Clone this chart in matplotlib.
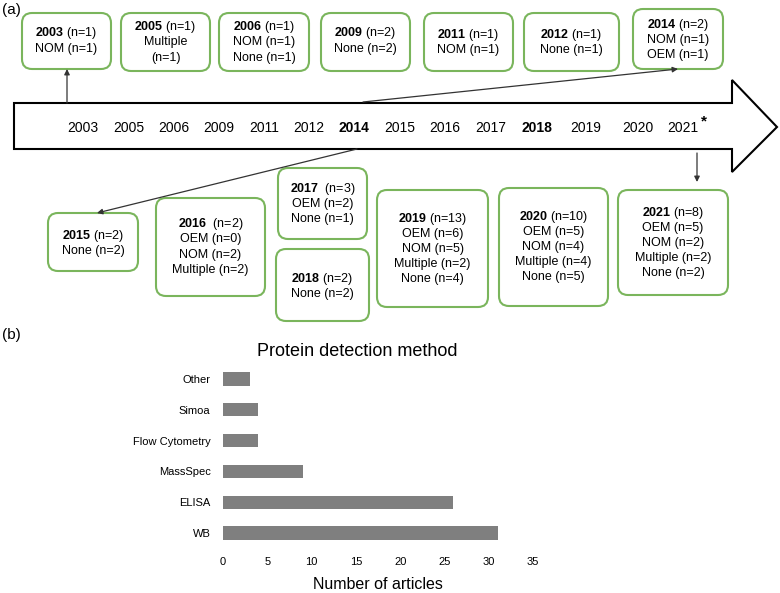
import numpy as np
import matplotlib
matplotlib.use("Agg")
import matplotlib.pyplot as plt
from matplotlib.patches import FancyBboxPatch, Polygon

plt.rcParams['font.family'] = ['Liberation Sans', 'DejaVu Sans']
plt.rcParams['mathtext.fontset'] = 'custom'
plt.rcParams['mathtext.rm'] = 'Liberation Sans'
plt.rcParams['mathtext.bf'] = 'Liberation Sans:bold'

# timeline years on the arrow
years = ['2003', '2005', '2006', '2009', '2011', '2012', '2014', '2015',
         '2016', '2017', '2018', '2019', '2020', '2021']
bold_years = ['2014', '2018']

# box contents (first entry is year, then lines)
box_year = ['2003', '2005', '2006', '2009', '2011', '2012', '2014',
            '2015', '2016', '2017', '2018', '2019', '2020', '2021']
box_head = ['(n=1)', '(n=1)', '(n=1)', '(n=2)', '(n=1)', '(n=1)', '(n=2)',
            '(n=2)', ' (n=2)', ' (n=3)', '(n=2)', '(n=13)', '(n=10)', '(n=8)']
box_lines = [
    ['NOM (n=1)'],
    ['Multiple', '(n=1)'],
    ['NOM (n=1)', 'None (n=1)'],
    ['None (n=2)'],
    ['NOM (n=1)'],
    ['None (n=1)'],
    ['NOM (n=1)', 'OEM (n=1)'],
    ['None (n=2)'],
    ['OEM (n=0)', 'NOM (n=2)', 'Multiple (n=2)'],
    ['OEM (n=2)', 'None (n=1)'],
    ['None (n=2)'],
    ['OEM (n=6)', 'NOM (n=5)', 'Multiple (n=2)', 'None (n=4)'],
    ['OEM (n=5)', 'NOM (n=4)', 'Multiple (n=4)', 'None (n=5)'],
    ['OEM (n=5)', 'NOM (n=2)', 'Multiple (n=2)', 'None (n=2)'],
]

# bar chart data
methods = ['WB', 'ELISA', 'MassSpec', 'Flow Cytometry', 'Simoa', 'Other']
articles = [31, 26, 9, 4, 4, 3]

# layout in pixels (x0, y0, x1, y1, first text line y, line spacing)
year_x = [83, 129, 174, 219, 264, 309, 354, 400, 445, 491, 537, 586, 638, 683]
box_pos = [
    (22, 13, 111, 69, 33, 16), (121, 13, 210, 71, 27, 15.5),
    (219, 13, 309, 71, 27, 15.5), (321, 13, 410, 71, 33, 16),
    (424, 13, 513, 71, 35, 15), (524, 13, 619, 71, 35, 15),
    (633, 9, 723, 69, 25, 15),
    (48, 213, 138, 271, 236, 15), (156, 198, 265, 296, 224, 15.3),
    (278, 168, 367, 239, 189, 15), (276, 249, 369, 321, 279, 14.5),
    (377, 190, 488, 307, 219, 15), (499, 188, 608, 306, 217, 15),
    (618, 190, 728, 295, 213, 15),
]
green = '#7ab55c'

fig = plt.figure(figsize=(7.8, 5.93), dpi=100)
ax0 = fig.add_axes([0, 0, 1, 1])
ax0.set_xlim(0, 780)
ax0.set_ylim(593, 0)
ax0.axis('off')

ax0.text(2, 10, '(a)', fontsize=11, va='center', ha='left')
ax0.text(2, 335, '(b)', fontsize=11, va='center', ha='left')

# big timeline arrow
arrow_pts = [(14, 103), (732, 103), (732, 80), (777, 127), (732, 172),
             (732, 149), (14, 149)]
ax0.add_patch(Polygon(arrow_pts, closed=True, facecolor='white',
                      edgecolor='black', lw=1.5, zorder=1))

for y, x in zip(years, year_x):
    w = 'bold' if y in bold_years else 'normal'
    ax0.text(x, 128, y, fontsize=10, ha='center', va='center', weight=w, zorder=3)
ax0.text(704, 121, '*', fontsize=11, ha='center', va='center', weight='bold')

# boxes
for yr, hd, lines, pos in zip(box_year, box_head, box_lines, box_pos):
    x0, y0, x1, y1, ty, dy = pos
    ax0.add_patch(FancyBboxPatch((x0, y0), x1 - x0, y1 - y0,
                                 boxstyle='round,pad=0,rounding_size=10',
                                 facecolor='white', edgecolor=green, lw=1.5))
    cx = (x0 + x1) / 2
    ax0.text(cx, ty, r'$\mathbf{' + yr + '}$ ' + hd, fontsize=9,
             ha='center', va='center')
    for i, ln in enumerate(lines):
        ax0.text(cx, ty + dy * (i + 1), ln, fontsize=9, ha='center', va='center')

# connector arrows
arrows = [((67, 103), (67, 69)), ((363, 102), (678, 69)),
          ((357, 149), (97, 213)), ((697, 153), (697, 182))]
for start, end in arrows:
    ax0.annotate('', xy=end, xytext=start,
                 arrowprops=dict(arrowstyle='-|>', lw=0.9, color='#333333',
                                 mutation_scale=8, shrinkA=0, shrinkB=0))

# bar chart
ax = fig.add_axes([223 / 780, (593 - 551.5) / 593, 310 / 780, 191 / 593])
ypos = np.arange(len(methods))
ax.barh(ypos, articles, height=0.43, color='#7f7f7f')
ax.set_xlim(0, 35)
ax.set_ylim(-0.6, 5.6)
ax.set_yticks(ypos)
ax.set_yticklabels(methods, fontsize=8)
ax.set_xticks(np.arange(0, 36, 5))
ax.tick_params(axis='x', labelsize=8, length=0, pad=4)
ax.tick_params(axis='y', length=0, pad=9)
for s in ax.spines.values():
    s.set_visible(False)
ax.set_title('Protein detection method', fontsize=13, x=0.432, pad=0)
ax.set_xlabel('Number of articles', fontsize=11.5, labelpad=7)

fig.savefig('out.png', dpi=100)
